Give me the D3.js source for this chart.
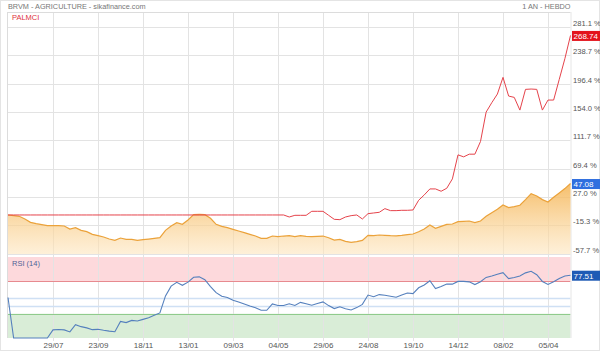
<!DOCTYPE html>
<html>
<head>
<meta charset="utf-8">
<script src="https://cdn.jsdelivr.net/npm/d3@7"></script>
<style>
  body { margin: 0; background: #fff; }
  svg { display: block; font-family: "Liberation Sans", Arial, sans-serif; }
</style>
</head>
<body>
<div id="chart"></div>
<script>
// --- 1. DATA (weekly closes, % change since first week) ---
const startDate = "2023-06-03";

const sectorPct = [
  0, -1, -2, -6, -11, -13, -14.5, -16, -16, -16,
  -16.5, -21, -19, -23, -25, -29, -31, -33, -36, -38,
  -34.5, -36.5, -36.5, -38, -37, -36, -35, -34, -23, -16.5,
  -11.5, -14, -7.5, 0.5, 1, 0.5, -5, -14, -17, -19,
  -21.5, -24, -26.5, -29, -31.5, -35, -35, -31.5, -32.5, -31.5,
  -31, -32.5, -31, -32, -32.5, -32, -31.5, -34, -37.5, -36.5,
  -39.5, -41, -40, -38, -30.5, -31, -30, -30.5, -31, -31.3,
  -30.5, -29.5, -28.5, -25, -21, -15, -20, -17, -14, -13.5,
  -10, -9.5, -9, -11.5, -9, -2, 3.5, 8.5, 15, 11,
  12.5, 14.5, 23, 32, 28.5, 23, 19.5, 26.5, 33, 39.5,
  47.08
];

const palmciPct = [
  0, 0, 0, 0, 0, 0, 0, 0, 0, 0,
  0, 0, 0, 0, 0, 0, 0, 0, 0, 0,
  0, 0, 0, 0, 0, 0, 0, 0, 0, 0,
  0, 0, 0, 0, 0, 0, 0, 0, 0, 0,
  0, 0, 0, 0, 0, 0, 0, 0, 0, 0,
  -3, -0.5, -0.5, -0.5, 5.5, 5.5, 5.5, -0.5, -6.5, -7,
  -3, -1, 0, -6, 2, 3, 4, 9.5, 6.5, 6.5,
  7, 7, 7.5, 22, 30, 39, 39, 35.5, 40, 54,
  90, 87, 91, 91, 110, 154, 168, 181, 206, 178,
  176, 157, 188, 188.5, 188, 157, 172, 172, 203, 234,
  268.74
];

const rsi14 = [
  50, 0, 0, 0, 0, 0, 0, 0, 10, 10.5,
  10, 7.5, 16.5, 14, 12.5, 10.3, 10.7, 9.5, 8.5, 7.8,
  20.5, 19, 21.7, 21, 23, 25, 28, 31, 52, 64,
  68.7, 65, 69, 75, 75.5, 72, 63.5, 56, 51.5, 50,
  46.5, 44.5, 42, 39.5, 37.3, 34.2, 34.2, 42, 40.1, 40.2,
  42.3, 40.1, 44, 42.3, 40.5, 42.6, 44.6, 40, 36.3, 38.5,
  36.2, 34.6, 37.5, 41.5, 53, 51, 53.6, 52.7, 51.6, 50.4,
  53, 55.6, 54.8, 62, 65.5, 70.7, 61, 63.5, 66.7, 66.5,
  69.9, 69.9, 69.3, 66, 69.5, 74.8, 76.5, 78.6, 80.6, 73.4,
  74.6, 76.6, 80.4, 82.3, 78.2, 69.8, 66.1, 69.4, 73.5, 76.5,
  77.51
];

const dateTicks = ["2023-07-29", "2023-09-23", "2023-11-18", "2024-01-13", "2024-03-09", "2024-05-04",
                   "2024-06-29", "2024-08-24", "2024-10-19", "2024-12-14", "2025-02-08", "2025-04-05"];
const dateLabels = ["29/07", "23/09", "18/11", "13/01", "09/03", "04/05",
                    "29/06", "24/08", "19/10", "14/12", "08/02", "05/04"];
const pctTicks = [281.1, 238.7, 196.4, 154.0, 111.7, 69.4, 27.0, -15.3, -57.7];
const rsiTicks = [40, 0];
const rsiTickLabels = ["40.00", "0.000"];
const rsiLevels = [70, 50, 40, 30];

// --- 2. PARSING ---
const parseDate = d3.timeParse("%Y-%m-%d");
const t0 = parseDate(startDate);
const weeks = sectorPct.map((d, i) => d3.timeWeek.offset(t0, i));

// --- 3. SETUP ---
const W = 600, H = 351;
const left = 8, right = 570.5;
const mainTop = 12, mainBottom = 254;
const rsiTop = 257, rsiBottom = 338;

const svg = d3.select("#chart").append("svg")
  .attr("width", W).attr("height", H);

const x = d3.scaleTime()
  .domain([weeks[0], weeks[weeks.length - 1]])
  .range([left, right]);

const y = d3.scaleLinear()
  .domain([-58.4, 303.8])
  .range([mainBottom, mainTop]);

const yr = d3.scaleLinear()
  .domain([0, 100])
  .range([rsiBottom, rsiTop]);

const tickDates = dateTicks.map(parseDate);

// outer frame
svg.append("rect")
  .attr("x", 0.5).attr("y", 0.5).attr("width", W - 1).attr("height", H - 1)
  .attr("fill", "none").attr("stroke", "#e4e4e4");

// --- 4. RSI BANDS ---
svg.append("rect")
  .attr("x", left).attr("width", right - left)
  .attr("y", yr(100)).attr("height", yr(70) - yr(100))
  .attr("fill", "#fdd9dc");
svg.append("rect")
  .attr("x", left).attr("width", right - left)
  .attr("y", yr(30)).attr("height", yr(0) - yr(30))
  .attr("fill", "#d9edd7");

// --- 5. GRID ---
const grid = svg.append("g").attr("stroke", "#e3e3e3").attr("stroke-width", 1);
grid.selectAll("line.v")
  .data(tickDates)
  .enter().append("line")
  .attr("x1", d => Math.round(x(d)) + 0.5).attr("x2", d => Math.round(x(d)) + 0.5)
  .attr("y1", mainTop).attr("y2", rsiBottom + 3);
grid.selectAll("line.h")
  .data(pctTicks)
  .enter().append("line")
  .attr("x1", left).attr("x2", right)
  .attr("y1", d => Math.round(y(d)) + 0.5).attr("y2", d => Math.round(y(d)) + 0.5);

const levelColor = { 70: "#e78a8f", 50: "#cfe0f4", 40: "#cfe0f4", 30: "#8fcb8c" };
svg.selectAll("line.level")
  .data(rsiLevels)
  .enter().append("line")
  .attr("x1", left).attr("x2", right)
  .attr("y1", d => Math.round(yr(d)) + 0.5).attr("y2", d => Math.round(yr(d)) + 0.5)
  .attr("stroke", d => levelColor[d])
  .attr("stroke-width", d => (d === 50 || d === 40) ? 1.5 : 1);

// panel frames
svg.append("line").attr("x1", left).attr("x2", right).attr("y1", mainTop + 0.5).attr("y2", mainTop + 0.5).attr("stroke", "#dcdcdc");
svg.append("line").attr("x1", left - 0.5).attr("x2", left - 0.5).attr("y1", mainTop).attr("y2", rsiBottom).attr("stroke", "#dcdcdc");
svg.append("line").attr("x1", right + 0.5).attr("x2", right + 0.5).attr("y1", mainTop).attr("y2", rsiBottom).attr("stroke", "#e6e6e6");

// --- 6. SECTOR AREA ---
const defs = svg.append("defs");
const grad = defs.append("linearGradient")
  .attr("id", "sectorFill")
  .attr("gradientUnits", "userSpaceOnUse")
  .attr("x1", 0).attr("x2", 0).attr("y1", 170).attr("y2", mainBottom);
grad.append("stop").attr("offset", 0).attr("stop-color", "#f3ab40").attr("stop-opacity", 0.92);
grad.append("stop").attr("offset", 1).attr("stop-color", "#fde6bf").attr("stop-opacity", 0.6);

const area = d3.area()
  .x((d, i) => x(weeks[i]))
  .y0(mainBottom)
  .y1(d => y(d));
svg.append("path")
  .datum(sectorPct)
  .attr("d", area)
  .attr("fill", "url(#sectorFill)");

const line = d3.line()
  .x((d, i) => x(weeks[i]))
  .y(d => y(d));
svg.append("path")
  .datum(sectorPct)
  .attr("d", line)
  .attr("fill", "none")
  .attr("stroke", "#eba23a")
  .attr("stroke-width", 1.2);

// --- 7. PALMCI LINE ---
svg.append("path")
  .datum(palmciPct)
  .attr("d", line)
  .attr("fill", "none")
  .attr("stroke", "#e5434b")
  .attr("stroke-width", 1);

// --- 8. RSI LINE ---
const rsiLine = d3.line()
  .x((d, i) => x(weeks[i]))
  .y(d => yr(d));
svg.append("path")
  .datum(rsi14)
  .attr("d", rsiLine)
  .attr("fill", "none")
  .attr("stroke", "#5580bd")
  .attr("stroke-width", 1.1);

// --- 9. AXES / LABELS ---
const xAxis = d3.axisBottom(x).tickValues(tickDates).tickSize(0)
  .tickFormat((d, i) => dateLabels[i]);
svg.append("g")
  .attr("transform", `translate(0, ${rsiBottom})`)
  .call(xAxis)
  .call(g => g.select(".domain").remove())
  .selectAll("text")
  .attr("y", 10)
  .attr("dy", 0)
  .attr("fill", "#555")
  .style("font-size", "8px")
  .style("font-family", "'Liberation Sans', Arial, sans-serif");

const yAxis = d3.axisRight(y).tickValues(pctTicks).tickSize(0)
  .tickFormat(d => d.toFixed(1) + " %");
svg.append("g")
  .attr("transform", `translate(${right}, 0)`)
  .call(yAxis)
  .call(g => g.select(".domain").remove())
  .selectAll("text")
  .attr("x", 2.5)
  .attr("dy", "-0.2em")
  .attr("fill", "#555")
  .style("font-size", "7.6px")
  .style("font-family", "'Liberation Sans', Arial, sans-serif");

defs.append("clipPath").attr("id", "rsiClip")
  .append("rect").attr("x", right).attr("y", rsiTop).attr("width", 40).attr("height", rsiBottom - rsiTop + 0.5);
const yrAxis = d3.axisRight(yr).tickValues(rsiTicks).tickSize(0)
  .tickFormat((d, i) => rsiTickLabels[i]);
svg.append("g")
  .attr("transform", `translate(${right}, 0)`)
  .attr("clip-path", "url(#rsiClip)")
  .call(yrAxis)
  .call(g => g.select(".domain").remove())
  .selectAll("text")
  .attr("x", 3)
  .attr("dy", "-0.2em")
  .attr("fill", "#555")
  .style("font-size", "8px")
  .style("font-family", "'Liberation Sans', Arial, sans-serif");

// last-value badges
const badges = [
  { v: palmciPct[palmciPct.length - 1], py: y(palmciPct[palmciPct.length - 1]), fill: "#e3131b" },
  { v: sectorPct[sectorPct.length - 1], py: y(sectorPct[sectorPct.length - 1]), fill: "#2f6fdf" },
  { v: rsi14[rsi14.length - 1], py: yr(rsi14[rsi14.length - 1]), fill: "#1f5bb5" }
];
const badge = svg.selectAll("g.badge").data(badges).enter().append("g");
badge.append("rect")
  .attr("x", right + 1.5).attr("y", d => d.py - 4.5)
  .attr("width", 28).attr("height", 10)
  .attr("fill", d => d.fill);
badge.append("text")
  .attr("x", right + 3).attr("y", d => d.py + 3.5)
  .attr("fill", "#fff")
  .style("font-size", "8px")
  .text(d => d.v.toFixed(2));

// titles
svg.append("text").attr("x", 8).attr("y", 8.5)
  .attr("fill", "#777").style("font-size", "7.3px")
  .text("BRVM - AGRICULTURE - sikafinance.com");
svg.append("text").attr("x", right).attr("y", 8.5).attr("text-anchor", "end")
  .attr("fill", "#777").style("font-size", "7.3px")
  .text("1 AN - HEBDO");
svg.append("text").attr("x", 12).attr("y", 20)
  .attr("fill", "#e0323c").style("font-size", "7.5px")
  .text("PALMCI");
svg.append("text").attr("x", 12).attr("y", 265.5)
  .attr("fill", "#4d6496").style("font-size", "7.5px")
  .text("RSI (14)");
</script>
</body>
</html>
